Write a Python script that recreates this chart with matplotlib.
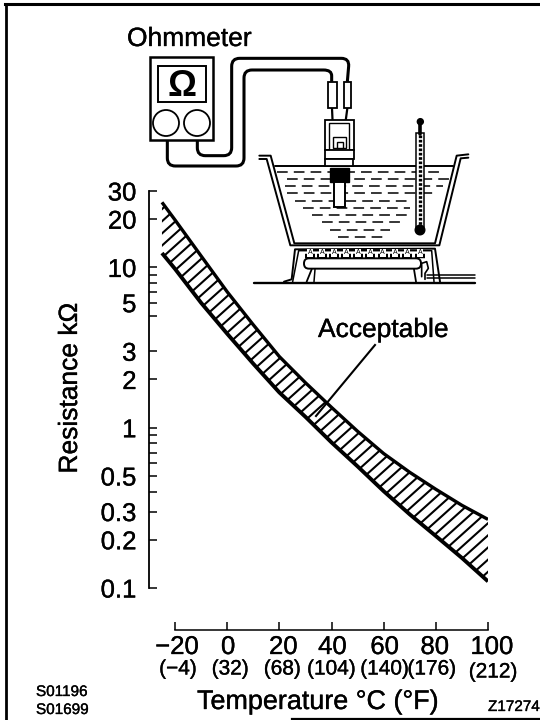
import numpy as np
import matplotlib
matplotlib.use("Agg")
import matplotlib.pyplot as plt
import matplotlib.patheffects as pe
from matplotlib.path import Path
from matplotlib.patches import PathPatch, Rectangle, Circle, FancyBboxPatch
from matplotlib.transforms import ScaledTranslation

plt.rcParams['font.family'] = ['Liberation Sans', 'DejaVu Sans']

# acceptable band
temps = [-25, -20, -10, 0, 10, 20, 30, 40, 50, 60, 70, 80, 90, 100]
r_upper = [25.5, 19.8, 11.8, 7.05, 4.39, 2.78, 1.91, 1.34, 0.95, 0.69, 0.527, 0.413, 0.328, 0.268]
r_lower = [12.3, 9.8, 6.02, 3.86, 2.51, 1.66, 1.17, 0.81, 0.574, 0.402, 0.288, 0.211, 0.154, 0.11]

y_major = [30, 20, 10, 5, 3, 2, 1, 0.5, 0.3, 0.2, 0.1]
y_labels = ['30', '20', '10', '5', '3', '2', '1', '0.5', '0.3', '0.2', '0.1']
y_minor = [9, 8, 7, 6, 0.9, 0.8, 0.7, 0.6, 0.4]
x_ticks = [-20, 0, 20, 40, 60, 80, 100]
x_labels = ['\u221220', '0', '20', '40', '60', '80', '100']
f_labels = ['(\u22124)', '(32)', '(68)', '(104)', '(140)', '(176)', '(212)']
c_nudge = [2, 1, 4, 1, 1, -1, 4]
f_nudge = [3, 3, 3, 0, 1, -4, 5]
f_drop = [0, 0, 0, 0, 0, 0, 3]

W, H = 540, 720
fig = plt.figure(figsize=(5.4, 7.2), dpi=100)

# chart axes, placed in pixels of the page
left, right, top, bottom = 149, 488, 191, 588
ax = fig.add_axes([left / W, 1 - bottom / H, (right - left) / W, (bottom - top) / H])
ax.patch.set_alpha(0)
ax.set_yscale('log')
ax.set_ylim(0.1, 30)
ax.set_xlim(-20 - (175 - left) / 2.608, 100)
for s in ['top', 'right']:
    ax.spines[s].set_visible(False)
ax.spines['left'].set_linewidth(1.3)
ax.spines['left'].set_bounds(0.1, 30)
ax.spines['bottom'].set_linewidth(1.1)
ax.spines['bottom'].set_position(('outward', 42 * 0.72))
ax.spines['bottom'].set_bounds(-20, 100)

ax.set_yticks(y_major, y_labels)
ax.set_yticks(y_minor, [''] * len(y_minor), minor=True)
ax.tick_params(axis='y', which='both', direction='in', length=6, width=1.1, labelsize=18.5, pad=9)
ax.set_xticks(x_ticks, [''] * len(x_ticks))
ax.tick_params(axis='x', direction='in', length=6, width=1.1)
stroke = [pe.withStroke(linewidth=0.25, foreground='k')]
for lab in ax.get_yticklabels():
    lab.set_path_effects(stroke)
    if lab.get_text() == '5':
        lab.set_transform(lab.get_transform() + ScaledTranslation(0, 13 / 100, fig.dpi_scale_trans))

for t, c, f, cn, fn, fd in zip(x_ticks, x_labels, f_labels, c_nudge, f_nudge, f_drop):
    ax.annotate(c, (t, 0), xycoords=('data', 'axes fraction'), xytext=(cn * 0.72, -59 * 0.72),
                textcoords='offset points', ha='center', va='center', fontsize=18.5, path_effects=stroke)
    ax.annotate(f, (t, 0), xycoords=('data', 'axes fraction'), xytext=(fn * 0.72, -(81 + fd) * 0.72),
                textcoords='offset points', ha='center', va='center', fontsize=15, path_effects=stroke)

band = ax.fill_between(temps, r_lower, r_upper, facecolor='none', edgecolor='none')
ax.plot(temps, r_upper, color='k', lw=2.4, solid_capstyle='butt')
ax.plot(temps, r_lower, color='k', lw=2.8, solid_capstyle='butt')

# page overlay in pixel coordinates, y going down
pg = fig.add_axes([0, 0, 1, 1], zorder=-1)
pg.set_xlim(0, W)
pg.set_ylim(H, 0)
pg.axis('off')

# hatch lines of the band, clipped to it
clip_path = band.get_paths()[0]
for x0 in np.arange(-120, 960, 13.5):
    ln, = pg.plot([x0 - 400, x0 + 400], [390 + 360, 390 - 360], color='k', lw=1.5)
    ln.set_clip_path(clip_path, band.get_transform())


def z(x, y):
    # zoom crop coordinates to page pixels
    return 110 + x / 3, 10 + y / 3


def line(pts, lw=1.1, **kw):
    xs, ys = zip(*[z(*p) for p in pts])
    pg.plot(xs, ys, color='k', lw=lw, solid_capstyle=kw.pop('cap', 'round'), **kw)


def rounded(pts, lw=2.2, zorder=3):
    # polyline with the inner corners rounded off
    pts = [np.array(z(*p), float) for p in pts]
    verts, codes = [pts[0]], [Path.MOVETO]
    for a, b, c in zip(pts, pts[1:], pts[2:]):
        r = 8
        p1 = b + (a - b) / np.linalg.norm(a - b) * min(r, np.linalg.norm(a - b) / 2)
        p2 = b + (c - b) / np.linalg.norm(c - b) * min(r, np.linalg.norm(c - b) / 2)
        verts += [p1, b, p2]
        codes += [Path.LINETO, Path.CURVE3, Path.CURVE3]
    verts.append(pts[-1])
    codes.append(Path.LINETO)
    pg.add_patch(PathPatch(Path(verts, codes), fc='none', ec='k', lw=lw, zorder=zorder))


def box(x0, y0, x1, y1, fc='white', lw=1.1, zorder=4):
    xa, ya = z(x0, y0)
    xb, yb = z(x1, y1)
    pg.add_patch(Rectangle((xa, ya), xb - xa, yb - ya, fc=fc, ec='k', lw=lw, zorder=zorder))


# page border
pg.plot([6, 6], [720, 4], color='k', lw=2)
pg.plot([5, 540], [4, 4], color='k', lw=2.2)
pg.plot([292, 540], [719, 719], color='k', lw=1.6)

# meter
box(120, 142, 310, 390, lw=1.8)
box(145, 167, 287, 277, lw=1.4)
pg.text(182, 86, '\u03a9', ha='center', va='center', fontsize=26, fontweight='bold', zorder=5)
for cx in [166, 197]:
    pg.add_patch(Circle((cx, 123), 13, fc='white', ec='k', lw=1.3, zorder=5))

# leads
rounded([(262, 390), (262, 437), (365, 437), (365, 145), (718, 145), (712, 215)])
rounded([(172, 390), (172, 468), (402, 468), (402, 180), (665, 180), (665, 215)])

# probes
box(655, 215, 680, 295, lw=1.3)
box(703, 215, 722, 295, lw=1.3)
line([(666, 295), (668, 340)], lw=1.6)
line([(712, 295), (706, 340)], lw=1.6)

# tank
line([(448, 437), (482, 437), (553, 700), (975, 700), (1040, 437), (1075, 433)], lw=1.4)
line([(448, 447), (470, 447), (541, 706), (988, 706), (1052, 445), (1075, 443)], lw=1.4)
line([(495, 468), (1030, 468)], lw=1.4)

# water dashes
for wy, wa, wb in [(487, 500, 1000), (507, 530, 1020), (528, 525, 1000), (549, 530, 970),
                   (572, 555, 900), (593, 580, 900), (615, 605, 895), (637, 635, 870),
                   (659, 660, 840), (682, 685, 820)]:
    line([(wa, wy), (wb, wy)], lw=1.1, linestyle=(0, (7, 4)), dash_capstyle='butt')

# sensor
box(645, 330, 732, 420, lw=1.3)
box(657, 340, 718, 420, lw=1.0)
box(670, 380, 708, 415, lw=1.0)
box(680, 395, 698, 415, lw=1.0)
box(645, 420, 732, 447, lw=1.3)
box(645, 447, 730, 468, lw=1.3)
box(660, 475, 718, 515, fc='k', lw=1)
box(672, 515, 705, 590, lw=1.4)

# thermometer
box(917, 370, 942, 650, lw=1.1)
line([(930, 375), (930, 650)], lw=2.4, linestyle=(0, (0.8, 0.5)), dash_capstyle='butt', zorder=5)
line([(931, 335), (931, 372)], lw=2.6, zorder=5)
pg.add_patch(Circle(z(930, 660), 4.8, fc='k', ec='k', zorder=5))
pg.add_patch(Circle(z(931, 335), 3, fc='k', ec='k', zorder=5))

# burner stand
line([(522, 815), (545, 808), (555, 718), (975, 716), (990, 815)], lw=1.4)
line([(548, 815), (566, 722), (965, 722), (972, 815)], lw=1.1)
line([(590, 815), (605, 778)], lw=1.3)
line([(612, 815), (615, 778)], lw=1.1)
line([(912, 778), (918, 815)], lw=1.3)
line([(432, 818), (1095, 818)], lw=1.7)
line([(950, 795), (1095, 795)], lw=1.1)
line([(950, 805), (1095, 805)], lw=1.1)
xa, ya = z(570, 745)
xb, yb = z(945, 776)
pg.add_patch(FancyBboxPatch((xa + 4, ya), xb - xa - 8, yb - ya, boxstyle='round,pad=0,rounding_size=5',
                            fc='white', ec='k', lw=1.4, zorder=4,
                            mutation_aspect=1))
line([(935, 800), (935, 760), (950, 755), (955, 775), (945, 790), (945, 808)], lw=1.2, zorder=5)
for fx in [600, 636, 672, 708, 745, 780, 818, 855, 892, 930]:
    line([(fx - 15, 737), (fx + 15, 737)], lw=3.2, cap='butt', zorder=3)
    gx, gy = z(fx, 729)
    pg.text(gx, gy, 'A', fontsize=5, ha='center', va='center', zorder=5,
            bbox=dict(fc='white', ec='none', pad=0.4))

# texts
pg.text(127, 46, 'Ohmmeter', ha='left', va='baseline', fontsize=19, path_effects=stroke)
pg.text(318, 337, 'Acceptable', ha='left', va='baseline', fontsize=19, path_effects=stroke)
pg.plot([375, 316], [345, 416], color='k', lw=1.5, zorder=3)
pg.text(70, 388, 'Resistance k\u03a9', rotation=90, ha='center', va='center', fontsize=19, path_effects=stroke)
pg.text(197, 709, 'Temperature \u00b0C (\u00b0F)', ha='left', va='baseline', fontsize=19.4, path_effects=stroke)
pg.text(36, 696, 'S01196', ha='left', va='baseline', fontsize=11, path_effects=stroke)
pg.text(36, 714, 'S01699', ha='left', va='baseline', fontsize=11, path_effects=stroke)
pg.text(488, 711, 'Z17274', ha='left', va='baseline', fontsize=11, path_effects=stroke)

fig.savefig('out.png', dpi=100, facecolor='white')
